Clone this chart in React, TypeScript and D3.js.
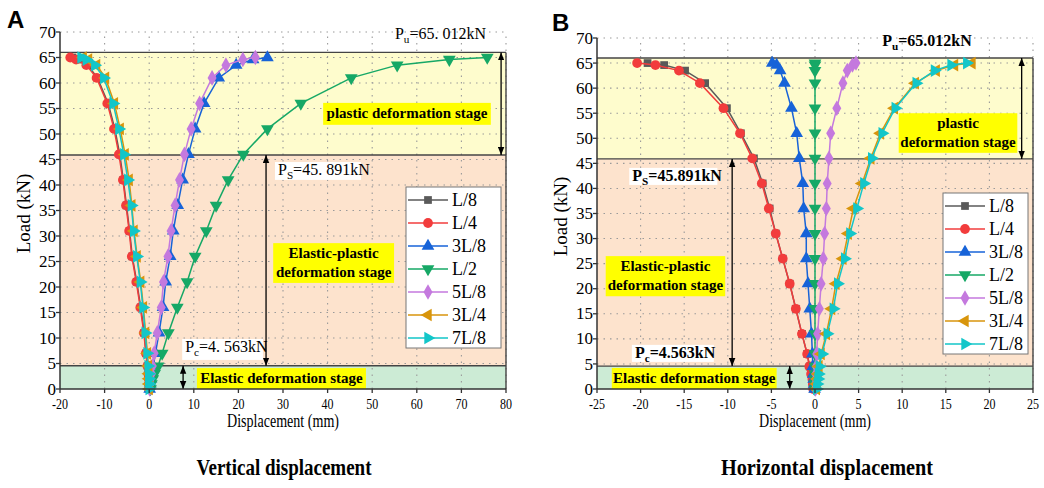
import * as d3 from "d3";

// load steps (kN), shared by every series
const loads = [0, 1, 2, 3, 4.5, 7, 11, 16, 21, 26, 31, 36, 41, 46, 51, 56, 61, 63.5, 64.6, 65];

const seriesNames = ["L/8", "L/4", "3L/8", "L/2", "5L/8", "3L/4", "7L/8"];
const seriesColors = ["#5a5a5a", "#f23c3c", "#1763d8", "#16a866", "#c479de", "#d8950c", "#12c6c9"];

// vertical displacement (mm)
const vertL8 = [0, -0.05, -0.1, -0.2, -0.35, -0.7, -1.1, -1.9, -2.8, -3.8, -4.4, -5.1, -5.8, -6.6, -7.7, -9.2, -11.6, -13.8, -15.9, -17.2];
const vertL4 = [0, -0.05, -0.1, -0.2, -0.4, -0.75, -1.2, -2.0, -2.9, -3.9, -4.5, -5.2, -5.9, -6.8, -7.9, -9.4, -11.8, -14.1, -16.4, -17.7];
const vert3L8 = [0.1, 0.25, 0.4, 0.6, 0.9, 1.4, 2.2, 3.1, 3.7, 4.7, 5.4, 6.4, 7.5, 8.8, 10.3, 12.3, 15.6, 19.5, 23.3, 26.5];
const vertL2 = [0.3, 0.5, 0.8, 1.2, 2.0, 2.9, 4.3, 6.3, 8.5, 10.3, 12.8, 15.0, 17.7, 21.1, 26.5, 34.0, 45.3, 55.6, 67.3, 75.8];
const vert5L8 = [0.1, 0.2, 0.3, 0.5, 0.7, 1.1, 1.8, 2.7, 3.2, 4.2, 4.9, 5.8, 6.8, 7.9, 9.4, 11.3, 14.1, 17.2, 21.0, 23.8];
const vert3L4 = [0, -0.02, -0.05, -0.1, -0.2, -0.4, -0.8, -1.3, -1.9, -2.7, -3.4, -3.9, -4.5, -5.4, -6.5, -7.8, -9.8, -11.8, -13.6, -14.8];
const vert7L8 = [0, -0.03, -0.07, -0.12, -0.25, -0.5, -0.9, -1.4, -2.0, -2.8, -3.5, -4.0, -4.8, -5.7, -6.8, -8.1, -10.2, -12.2, -14.1, -15.3];

// horizontal displacement (mm)
const horL8 = [-0.2, -0.25, -0.3, -0.4, -0.6, -0.9, -1.5, -2.2, -2.9, -3.7, -4.5, -5.2, -6.0, -7.0, -8.5, -10.1, -12.6, -14.9, -17.3, -19.2];
const horL4 = [-0.2, -0.25, -0.3, -0.45, -0.65, -0.9, -1.5, -2.2, -2.9, -3.7, -4.5, -5.3, -6.1, -7.2, -8.6, -10.5, -13.2, -15.6, -18.3, -20.4];
const hor3L8 = [-0.05, -0.1, -0.15, -0.2, -0.25, -0.3, -0.4, -0.6, -0.8, -1.0, -1.0, -1.3, -1.4, -1.8, -2.1, -2.7, -3.5, -4.0, -4.4, -4.9];
const horL2 = [0, 0, 0, 0, 0, 0, 0, 0, 0, 0, 0, 0, 0, 0, 0, 0, 0, 0, 0, 0];
const hor5L8 = [0.05, 0.05, 0.1, 0.1, 0.15, 0.2, 0.3, 0.5, 0.7, 0.95, 1.1, 1.3, 1.4, 1.6, 1.8, 2.5, 3.2, 3.7, 4.3, 4.7];
const hor3L4 = [0.15, 0.2, 0.25, 0.35, 0.45, 0.7, 1.3, 1.9, 2.4, 3.2, 3.8, 4.4, 5.4, 6.4, 7.5, 9.1, 11.5, 13.9, 16.0, 18.0];
const hor7L8 = [0.2, 0.25, 0.35, 0.4, 0.5, 0.8, 1.4, 2.1, 2.6, 3.4, 4.0, 4.8, 5.6, 6.5, 7.7, 9.2, 11.6, 13.7, 15.6, 17.4];

// stage limits (kN)
const Pc = 4.563;
const Ps = 45.891;
const bandTop = 66;

const yTicks = d3.range(0, 71, 5);
const vertTicks = d3.range(-20, 81, 10);
const horTicks = d3.range(-25, 26, 5);

const serif = "Liberation Serif, DejaVu Serif, serif";

const symbolFor = (i) => {
  const types = [d3.symbolSquare, d3.symbolCircle, d3.symbolTriangle, d3.symbolTriangle, d3.symbolDiamond, d3.symbolTriangle, d3.symbolTriangle];
  const sizes = [60, 75, 70, 70, 70, 70, 70];
  const rot = [0, 0, 0, 180, 0, -90, 90];
  return { d: d3.symbol(types[i], sizes[i])(), rot: rot[i] };
};

function Marker({ i, x, y }) {
  const s = symbolFor(i);
  return <path d={s.d} transform={`translate(${x},${y}) rotate(${s.rot})`} fill={seriesColors[i]} />;
}

function Label({ x, y, main, sub, rest, bold, size }) {
  return (
    <text x={x} y={y} style={{ fontFamily: serif, fontSize: size, fontWeight: bold ? "bold" : "normal" }}>
      {main}
      <tspan style={{ fontSize: size * 0.7 }} dy={4}>{sub}</tspan>
      <tspan dy={-4}>{rest}</tspan>
    </text>
  );
}

function Panel({ id, letter, letterPos, xDomain, xRange, yRange, xTicks, series, title, titleX, titleLen, ann, bold, legendW }) {
  const x = d3.scaleLinear().domain(xDomain).range(xRange);
  const y = d3.scaleLinear().domain([0, 70]).range(yRange);
  const line = d3.line().x((d) => x(d[0])).y((d) => y(d[1]));
  const x0 = xRange[0], x1 = xRange[1];
  const yb = y(0);
  const lt = y(70) + 155;
  const lx = x1 - 5 - legendW;
  const arrow = `arr${id}`;

  const yBox = (b, fill) => (
    <g>
      <rect x={x(b.x0)} y={y(b.y1)} width={x(b.x1) - x(b.x0)} height={y(b.y0) - y(b.y1)} fill={fill} />
      {b.lines.map((t, k) => (
        <text key={k} x={(x(b.x0) + x(b.x1)) / 2} y={y(b.y1) + 15 + k * 19} textAnchor="middle"
          style={{ fontFamily: serif, fontSize: b.size, fontWeight: "bold" }}>{t}</text>
      ))}
    </g>
  );

  return (
    <g>
      <defs>
        <marker id={arrow} viewBox="0 0 10 8" refX="10" refY="4" markerWidth="8" markerHeight="7" markerUnits="userSpaceOnUse" orient="auto-start-reverse">
          <path d="M0,0L10,4L0,8z" fill="#000" />
        </marker>
      </defs>
      <text x={letterPos[0]} y={letterPos[1]} style={{ fontFamily: "Liberation Sans, Arial, sans-serif", fontWeight: "bold", fontSize: 24 }}>{letter}</text>

      {/* stage bands */}
      <rect x={x0} y={y(Pc)} width={x1 - x0} height={yb - y(Pc)} fill="#ccebd5" />
      <rect x={x0} y={y(Ps)} width={x1 - x0} height={y(Pc) - y(Ps)} fill="#fde3cd" />
      <rect x={x0} y={y(bandTop)} width={x1 - x0} height={y(Ps) - y(bandTop)} fill="#fefccd" />

      {/* grid */}
      {xTicks.slice(1).map((t) => (
        <line key={"gx" + t} x1={x(t)} x2={x(t)} y1={yb} y2={y(70)} stroke="#9a9a9a" strokeWidth={1.1} strokeDasharray="1.5,5" />
      ))}
      {yTicks.slice(1).map((t) => (
        <line key={"gy" + t} x1={x0} x2={x1} y1={y(t)} y2={y(t)} stroke="#9a9a9a" strokeWidth={1.1} strokeDasharray="1.5,5" />
      ))}

      {/* band borders */}
      {[Pc, Ps, bandTop].map((v) => (
        <line key={"b" + v} x1={x0} x2={x1} y1={y(v)} y2={y(v)} stroke="#444" strokeWidth={1.4} />
      ))}
      <line x1={x1} x2={x1} y1={yb} y2={y(bandTop)} stroke="#444" strokeWidth={1.4} />

      {/* series */}
      {series.map((vals, i) => {
        const pts = loads.map((l, k) => [vals[k], l]);
        return (
          <g key={i}>
            <path d={line(pts)} fill="none" stroke={seriesColors[i]} strokeWidth={1.5} />
            {pts.map((p, k) => <Marker key={k} i={i} x={x(p[0])} y={y(p[1])} />)}
          </g>
        );
      })}

      {/* annotations */}
      <Label x={x(ann.pu[0])} y={y(ann.pu[1])} main="P" sub="u" rest={ann.puText} bold={bold} size={16} />
      <line x1={x(ann.arrPu)} x2={x(ann.arrPu)} y1={y(bandTop)} y2={y(Ps)} stroke="#000" strokeWidth={1.3} markerStart={`url(#${arrow})`} markerEnd={`url(#${arrow})`} />
      {yBox(ann.plastic, "#ffff00")}

      <rect x={x(ann.ps.x0)} y={y(ann.ps.y1)} width={x(ann.ps.x1) - x(ann.ps.x0)} height={y(ann.ps.y0) - y(ann.ps.y1)} fill="#fff" />
      <Label x={x(ann.ps.x0) + 3} y={y(ann.ps.y1) + 13} main="P" sub="S" rest={ann.psText} bold={bold} size={16} />
      <line x1={x(ann.arrPs)} x2={x(ann.arrPs)} y1={y(Pc)} y2={y(Ps)} stroke="#000" strokeWidth={1.3} markerStart={`url(#${arrow})`} markerEnd={`url(#${arrow})`} />
      {yBox(ann.ep, "#ffff00")}

      <rect x={x(ann.pc.x0)} y={y(ann.pc.y1)} width={x(ann.pc.x1) - x(ann.pc.x0)} height={y(ann.pc.y0) - y(ann.pc.y1)} fill="#fff" />
      <Label x={x(ann.pc.x0) + 3} y={y(ann.pc.y1) + 13} main="P" sub="c" rest={ann.pcText} bold={bold} size={16} />
      <line x1={x(ann.arrPc)} x2={x(ann.arrPc)} y1={yb} y2={y(Pc)} stroke="#000" strokeWidth={1.3} markerStart={`url(#${arrow})`} markerEnd={`url(#${arrow})`} />
      {yBox(ann.el, "#ffff00")}

      {/* legend */}
      <rect x={lx} y={lt} width={legendW} height={161} fill="#fff" stroke="#777" strokeWidth={1} />
      {seriesNames.map((n, i) => {
        const ry = lt + 13 + i * 23;
        return (
          <g key={n}>
            <line x1={lx + 2} x2={lx + 42} y1={ry} y2={ry} stroke={seriesColors[i]} strokeWidth={1.5} />
            <Marker i={i} x={lx + 22} y={ry} />
            <text x={lx + 46} y={ry} dy="0.35em" style={{ fontFamily: serif, fontSize: 18 }}>{n}</text>
          </g>
        );
      })}

      {/* axes */}
      <line x1={x0} x2={x1} y1={yb} y2={yb} stroke="#333" strokeWidth={1.5} />
      <line x1={x0} x2={x0} y1={yb} y2={y(70)} stroke="#333" strokeWidth={1.5} />
      {yTicks.map((t) => (
        <g key={"yt" + t}>
          <line x1={x0 - 4} x2={x0} y1={y(t)} y2={y(t)} stroke="#333" strokeWidth={1.3} />
          <text x={x0 - 4} y={y(t)} dy="0.33em" textAnchor="end" style={{ fontFamily: serif, fontSize: 17 }}>{t}</text>
        </g>
      ))}
      {xTicks.map((t) => (
        <g key={"xt" + t}>
          <line x1={x(t)} x2={x(t)} y1={yb} y2={yb + 4} stroke="#333" strokeWidth={1.3} />
          <text transform={`translate(${x(t)},${yb + 20}) scale(0.8,1)`} textAnchor="middle" style={{ fontFamily: serif, fontSize: 15 }}>{t}</text>
        </g>
      ))}
      <text transform={`translate(${x0 - 30},${y(35) + 3}) rotate(-90)`} textAnchor="middle" style={{ fontFamily: serif, fontSize: 19 }}>Load (kN)</text>
      <text x={(x0 + x1) / 2} y={yb + 38} textAnchor="middle" style={{ fontFamily: serif, fontSize: 18 }} textLength={112} lengthAdjust="spacingAndGlyphs">Displacement (mm)</text>
      <text x={titleX} y={475} textAnchor="middle" style={{ fontFamily: serif, fontSize: 24, fontWeight: "bold" }} textLength={titleLen} lengthAdjust="spacingAndGlyphs">{title}</text>
    </g>
  );
}

const annVert = {
  pu: [55.1, 68.6], puText: "=65. 012kN", arrPu: 78.9,
  plastic: { x0: 39, x1: 76.6, y0: 51.8, y1: 56.1, size: 15, lines: ["plastic deformation stage"] },
  ps: { x0: 28.2, x1: 47.5, y0: 41, y1: 44.5 }, psText: "=45. 891kN", arrPs: 26.2,
  ep: { x0: 27.8, x1: 54.9, y0: 20.8, y1: 28.6, size: 15, lines: ["Elastic-plastic", "deformation stage"] },
  pc: { x0: 7.4, x1: 25.5, y0: 5.7, y1: 9.8 }, pcText: "=4. 563kN", arrPc: 7.6,
  el: { x0: 10.7, x1: 48.6, y0: 0, y1: 4.1, size: 15, lines: ["Elastic deformation stage"] },
};

const annHor = {
  pu: [7.7, 68.4], puText: "=65.012kN", arrPu: 23.7,
  plastic: { x0: 9.6, x1: 23.2, y0: 47.1, y1: 55, size: 15, lines: ["plastic", "deformation stage"] },
  ps: { x0: -21.3, x1: -11.2, y0: 40.7, y1: 44.1 }, psText: "=45.891kN", arrPs: -9.5,
  ep: { x0: -24, x1: -10.3, y0: 18.5, y1: 26.5, size: 15, lines: ["Elastic-plastic", "deformation stage"] },
  pc: { x0: -21, x1: -11.6, y0: 5.4, y1: 8.8 }, pcText: "=4.563kN", arrPc: -2.9,
  el: { x0: -23.3, x1: -4.4, y0: 0, y1: 4.2, size: 15, lines: ["Elastic deformation stage"] },
};

export default function App() {
  return (
    <svg width={1044} height={488} style={{ position: "absolute", left: 0, top: 0, background: "#fff" }}>
      <Panel
        id="A" letter="A" letterPos={[7, 28]}
        xDomain={[-20, 80]} xRange={[60, 506]} yRange={[389, 32]} xTicks={vertTicks}
        series={[vertL8, vertL4, vert3L8, vertL2, vert5L8, vert3L4, vert7L8]}
        title="Vertical displacement" titleX={284} titleLen={175}
        ann={annVert} bold={false} legendW={95}
      />
      <Panel
        id="B" letter="B" letterPos={[552, 31]}
        xDomain={[-25, 25]} xRange={[597, 1033]} yRange={[389, 38]} xTicks={horTicks}
        series={[horL8, horL4, hor3L8, horL2, hor5L8, hor3L4, hor7L8]}
        title="Horizontal displacement" titleX={827} titleLen={212}
        ann={annHor} bold={true} legendW={85}
      />
    </svg>
  );
}
